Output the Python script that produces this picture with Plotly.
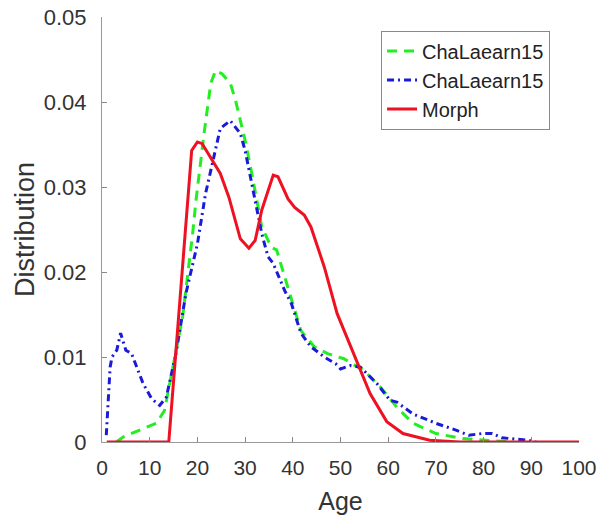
import plotly.graph_objects as go

# Morph (red solid)
morph_x = [1, 14, 18.8, 20, 21, 24.8, 26.6, 29, 30.8, 32.1, 33.5, 35.9, 36.9, 39, 40.4, 42.4, 43.8,
           46.6, 49.3, 52.8, 56.2, 59.7, 63.1, 68.7, 75, 100]
morph_y = [0, 0, 0.0343, 0.0353, 0.0351, 0.0316, 0.0288, 0.0239, 0.0228, 0.0237, 0.0273, 0.0314, 0.0312,
           0.0286, 0.0276, 0.0267, 0.0253, 0.0206, 0.0151, 0.0104, 0.0057, 0.0024, 0.0010, 0.0002, 0, 0]

# ChaLaearn15 (green dashed)
cha1_x = [3, 4.5, 7.9, 11.4, 13.1, 14.8, 16.9, 19, 19.7, 21.4, 22.8, 23.8, 25.2, 26.9, 28, 30, 31.4,
          33.5, 35.5, 36.6, 39, 41.7, 44.5, 47.3, 50.7, 54.9, 58.3, 61.8, 65.2, 70, 75.6, 81, 86]
cha1_y = [0, 0.0006, 0.0014, 0.0022, 0.0037, 0.0088, 0.0147, 0.0245, 0.0284, 0.0363, 0.0422, 0.0437,
          0.0433, 0.0422, 0.0402, 0.0355, 0.0316, 0.0253, 0.0229, 0.0226, 0.0182, 0.0131, 0.0112, 0.0104,
          0.0098, 0.0084, 0.0065, 0.0041, 0.0022, 0.0010, 0.0004, 0.0002, 0]

# ChaLaearn15 (blue dash-dot)
cha2_x = [0.9, 1.7, 2.1, 3.1, 3.9, 5, 6.2, 8.6, 10.4, 12.1, 13.5, 15.5, 17.6, 20, 21.7, 23.5, 24.8,
          26.9, 29, 30, 31.4, 33.5, 34.8, 35.9, 38.3, 39.7, 41.7, 43.8, 46.6, 49, 50, 52.1, 54.2, 57.6,
          60.4, 61.8, 65.2, 70, 74.2, 76.9, 79.7, 81.8, 83.8, 89.4, 91]
cha2_y = [0.0008, 0.0088, 0.0100, 0.0108, 0.0128, 0.0108, 0.0104, 0.0069, 0.0051, 0.0043, 0.0053,
          0.0104, 0.0175, 0.0233, 0.0292, 0.0335, 0.0369, 0.0378, 0.0363, 0.0343, 0.0304, 0.0245,
          0.0218, 0.0210, 0.0178, 0.0163, 0.0128, 0.0112, 0.0100, 0.0092, 0.0086, 0.0090, 0.0088,
          0.0069, 0.0049, 0.0047, 0.0033, 0.0022, 0.0014, 0.0008, 0.0010, 0.0010, 0.0005, 0.0002, 0]

x_ticks = [0, 10, 20, 30, 40, 50, 60, 70, 80, 90, 100]
y_ticks = [0, 0.01, 0.02, 0.03, 0.04, 0.05]
y_tick_labels = ["0", "0.01", "0.02", "0.03", "0.04", "0.05"]

fam = "Liberation Sans, Arial, sans-serif"
axis_font = dict(family=fam, size=22, color="#333333")
x_font = dict(family=fam, size=21, color="#333333")
fig = go.Figure()
fig.add_trace(go.Scatter(x=cha1_x, y=cha1_y, mode="lines", name="ChaLaearn15",
                         line=dict(color="#22ee22", width=3, dash="10px,7px")))
fig.add_trace(go.Scatter(x=cha2_x, y=cha2_y, mode="lines", name="ChaLaearn15",
                         line=dict(color="#1a1ad8", width=3, dash="7px,4px,2px,4px")))
fig.add_trace(go.Scatter(x=morph_x, y=morph_y, mode="lines", name="Morph",
                         line=dict(color="#ee1122", width=3)))

fig.update_layout(
    width=597, height=516,
    margin=dict(l=102, r=18, t=17, b=74),
    paper_bgcolor="white", plot_bgcolor="white",
    font=dict(family=fam, color="#333333"),
    showlegend=True,
    legend=dict(x=0.585, y=0.968, xanchor="left", yanchor="top",
                bgcolor="white", bordercolor="#888888", borderwidth=1,
                font=dict(family=fam, size=20, color="#222222"),
                tracegroupgap=0, itemwidth=30),
    xaxis=dict(range=[0, 100], tickvals=x_ticks, ticks="inside", ticklen=5, tickcolor="#888888",
               showline=True, linecolor="#999999", linewidth=1, showgrid=False, zeroline=False,
               tickfont=x_font, ticklabeloverflow="allow", ticklabelstandoff=7, automargin=False,
               title=dict(text="Age", font=dict(family=fam, size=25, color="#333333"), standoff=14)),
    yaxis=dict(range=[0, 0.05], tickvals=y_ticks, ticktext=y_tick_labels, ticks="inside", ticklen=5,
               tickcolor="#888888", showline=True, linecolor="#999999", linewidth=1, showgrid=False,
               zeroline=False, tickfont=axis_font, ticklabelstandoff=10, automargin=False,
               title=dict(text="Distribution", font=dict(family=fam, size=27, color="#333333"), standoff=1)),
)
fig.write_html("out.html")
